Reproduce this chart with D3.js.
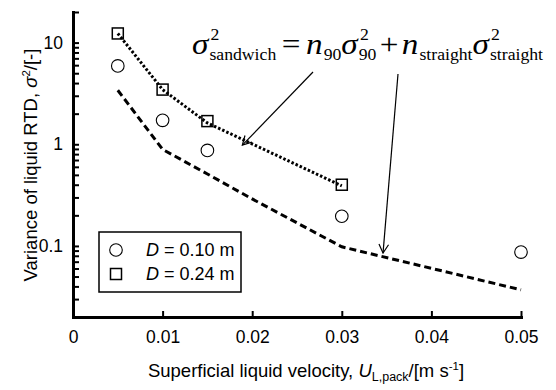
<!DOCTYPE html>
<html>
<head>
<meta charset="utf-8">
<script src="https://cdn.jsdelivr.net/npm/d3@7"></script>
<style>
  html, body { margin: 0; padding: 0; background: #fff; }
  svg { display: block; }
  text { font-family: "Liberation Sans", Arial, Helvetica, sans-serif; fill: #000; }
</style>
</head>
<body>
<svg id="chart" width="556" height="390"></svg>
<script>
// ---- data ----
const xD024 = [0.005, 0.01, 0.015, 0.03];
const varD024 = [12.3, 3.45, 1.69, 0.40];
const xD010 = [0.005, 0.01, 0.015, 0.03, 0.05];
const varD010 = [5.9, 1.72, 0.87, 0.196, 0.087];
// model: sandwich (90-degree) prediction, dotted
const xModel90 = [0.005, 0.01, 0.015, 0.03];
const varModel90 = [12.3, 3.45, 1.62, 0.39];
// model: straight prediction, dashed
const xModelStraight = [0.005, 0.01, 0.015, 0.02, 0.03, 0.05];
const varModelStraight = [3.4, 0.89, 0.51, 0.29, 0.098, 0.037];
// ticks
const xTicks = [0, 0.01, 0.02, 0.03, 0.04, 0.05];
const xTickLabels = ["0", "0.01", "0.02", "0.03", "0.04", "0.05"];
const yTicks = [0.02,0.03,0.04,0.05,0.06,0.07,0.08,0.09,0.1,0.2,0.3,0.4,0.5,0.6,0.7,0.8,0.9,1,2,3,4,5,6,7,8,9,10,20];
const yLabeled = [0.1, 1, 10];
const yTickLabels = ["0.1", "1", "10"];
const legendLabels = [" = 0.10 m", " = 0.24 m"];

// ---- layout ----
const svg = d3.select("#chart");
const x = d3.scaleLinear().domain([0, 0.05]).range([73, 521]);
const y = d3.scaleLog().domain([0.02, 20]).range([317, 12]);

// axes
const xAxis = d3.axisBottom(x).tickValues(xTicks)
  .tickFormat((d, i) => xTickLabels[i]).tickSizeInner(-6).tickSizeOuter(0).tickPadding(14);
const yAxis = d3.axisLeft(y).tickValues(yTicks)
  .tickFormat(d => { const i = yLabeled.findIndex(v => Math.abs(v - d) < 1e-9); return i >= 0 ? yTickLabels[i] : ""; })
  .tickSizeInner(-6).tickSizeOuter(0).tickPadding(10);

const gx = svg.append("g").attr("transform", "translate(0,317)").call(xAxis);
const gy = svg.append("g").attr("transform", "translate(73,0)").call(yAxis);
[gx, gy].forEach(g => {
  g.select(".domain").attr("stroke", "#000").attr("stroke-width", 3).attr("stroke-linecap", "square");
  g.selectAll(".tick line").attr("stroke", "#000").attr("stroke-width", 2);
  g.selectAll(".tick text").style("font-size", "17.5px").style("font-family", "'Liberation Sans', Arial, sans-serif").attr("fill", "#000");
});

// lines
const line = d3.line().x(d => x(d[0])).y(d => y(d[1]));
svg.append("path")
  .datum(xModelStraight.map((v, i) => [v, varModelStraight[i]]))
  .attr("d", line).attr("fill", "none").attr("stroke", "#000")
  .attr("stroke-width", 3).attr("stroke-dasharray", "7,4");
svg.append("path")
  .datum(xModel90.map((v, i) => [v, varModel90[i]]))
  .attr("d", line).attr("fill", "none").attr("stroke", "#000")
  .attr("stroke-width", 3).attr("stroke-dasharray", "2.5,2");

// markers
svg.selectAll("circle.d010").data(xD010.map((v, i) => [v, varD010[i]])).enter()
  .append("circle").attr("class", "d010")
  .attr("cx", d => x(d[0])).attr("cy", d => y(d[1])).attr("r", 6.3)
  .attr("fill", "none").attr("stroke", "#000").attr("stroke-width", 1.1);
const sq = 11;
svg.selectAll("rect.d024").data(xD024.map((v, i) => [v, varD024[i]])).enter()
  .append("rect").attr("class", "d024")
  .attr("x", d => x(d[0]) - sq / 2).attr("y", d => y(d[1]) - sq / 2)
  .attr("width", sq).attr("height", sq)
  .attr("fill", "none").attr("stroke", "#000").attr("stroke-width", 1.5);

// legend
const leg = svg.append("g");
leg.append("rect").attr("x", 99).attr("y", 232).attr("width", 142).attr("height", 60)
  .attr("fill", "#fff").attr("stroke", "#000").attr("stroke-width", 1.5);
leg.append("circle").attr("cx", 116).attr("cy", 250).attr("r", 6.3)
  .attr("fill", "none").attr("stroke", "#000").attr("stroke-width", 1.1);
leg.append("rect").attr("x", 116 - sq / 2).attr("y", 274 - sq / 2).attr("width", sq).attr("height", sq)
  .attr("fill", "none").attr("stroke", "#000").attr("stroke-width", 1.5);
[250, 274].forEach((cy, i) => {
  const t = leg.append("text").attr("x", 146).attr("y", cy).attr("dy", "0.36em").style("font-size", "18px");
  t.append("tspan").style("font-style", "italic").text("D");
  t.append("tspan").text(legendLabels[i]);
});

// axis titles
const xt = svg.append("text").attr("x", 306).attr("y", 377).attr("text-anchor", "middle").style("font-size", "18.5px");
xt.append("tspan").text("Superficial liquid velocity, ");
xt.append("tspan").style("font-style", "italic").text("U");
xt.append("tspan").attr("dy", 4).style("font-size", "12.5px").text("L,pack");
xt.append("tspan").attr("dy", -4).text("/[m s");
xt.append("tspan").attr("dy", -7).style("font-size", "11.5px").text("-1");
xt.append("tspan").attr("dy", 7).text("]");

const yt = svg.append("text").attr("transform", "translate(37,165) rotate(-90)")
  .attr("text-anchor", "middle").style("font-size", "18.5px");
yt.append("tspan").text("Variance of liquid RTD, ");
yt.append("tspan").style("font-style", "italic").text("σ");
yt.append("tspan").attr("dy", -7).style("font-size", "11.5px").text("2");
yt.append("tspan").attr("dy", 7).text("/[-]");

// equation annotation
const eq = svg.append("g");
let cx = 0;
const serif = "'Liberation Serif', 'Times New Roman', serif";
function mainT(t, italic) {
  const el = eq.append("text").attr("x", cx).attr("y", 0)
    .style("font-family", serif).style("font-size", "30px").style("font-style", italic ? "italic" : "normal").text(t);
  cx += el.node().getComputedTextLength();
}
function subSup(sub, sup) {
  let w = 0;
  if (sub) {
    const a = eq.append("text").attr("x", cx + 1).attr("y", 6).style("font-family", serif).style("font-size", "16px").text(sub);
    w = Math.max(w, a.node().getComputedTextLength() + 1);
  }
  if (sup) {
    const b = eq.append("text").attr("x", cx + 2).attr("y", -14).style("font-family", serif).style("font-size", "16px").text(sup);
    w = Math.max(w, b.node().getComputedTextLength() + 2);
  }
  cx += w;
}
function gap(w) { cx += w; }
mainT("σ", true); subSup("sandwich", "2"); gap(5);
mainT("=", false); gap(5);
mainT("n", true); subSup("90", null); mainT("σ", true); subSup("90", "2"); gap(3);
mainT("+", false); gap(3);
mainT("n", true); subSup("straight", null); mainT("σ", true); subSup("straight", "2");
const eqLeft = 192, eqRight = 543;
eq.attr("transform", `translate(${eqLeft},54) scale(${(eqRight - eqLeft) / cx},1)`);

// arrows
const arrows = [
  { from: [313, 72], to: [x(0.0189), y(0.98)] },
  { from: [398, 74], to: [x(0.0346), y(0.085)] }
];
arrows.forEach(a => {
  const [x1, y1] = a.from, [x2, y2] = a.to;
  svg.append("line").attr("x1", x1).attr("y1", y1).attr("x2", x2).attr("y2", y2)
    .attr("stroke", "#000").attr("stroke-width", 1.2);
  const ang = Math.atan2(y2 - y1, x2 - x1);
  const L = 10, W = 0.5;
  const p1 = [x2 - L * Math.cos(ang - W), y2 - L * Math.sin(ang - W)];
  const p2 = [x2 - L * Math.cos(ang + W), y2 - L * Math.sin(ang + W)];
  svg.append("path").attr("d", `M${p1[0]},${p1[1]} L${x2},${y2} L${p2[0]},${p2[1]}`)
    .attr("fill", "none").attr("stroke", "#000").attr("stroke-width", 1.2);
});
</script>
</body>
</html>
